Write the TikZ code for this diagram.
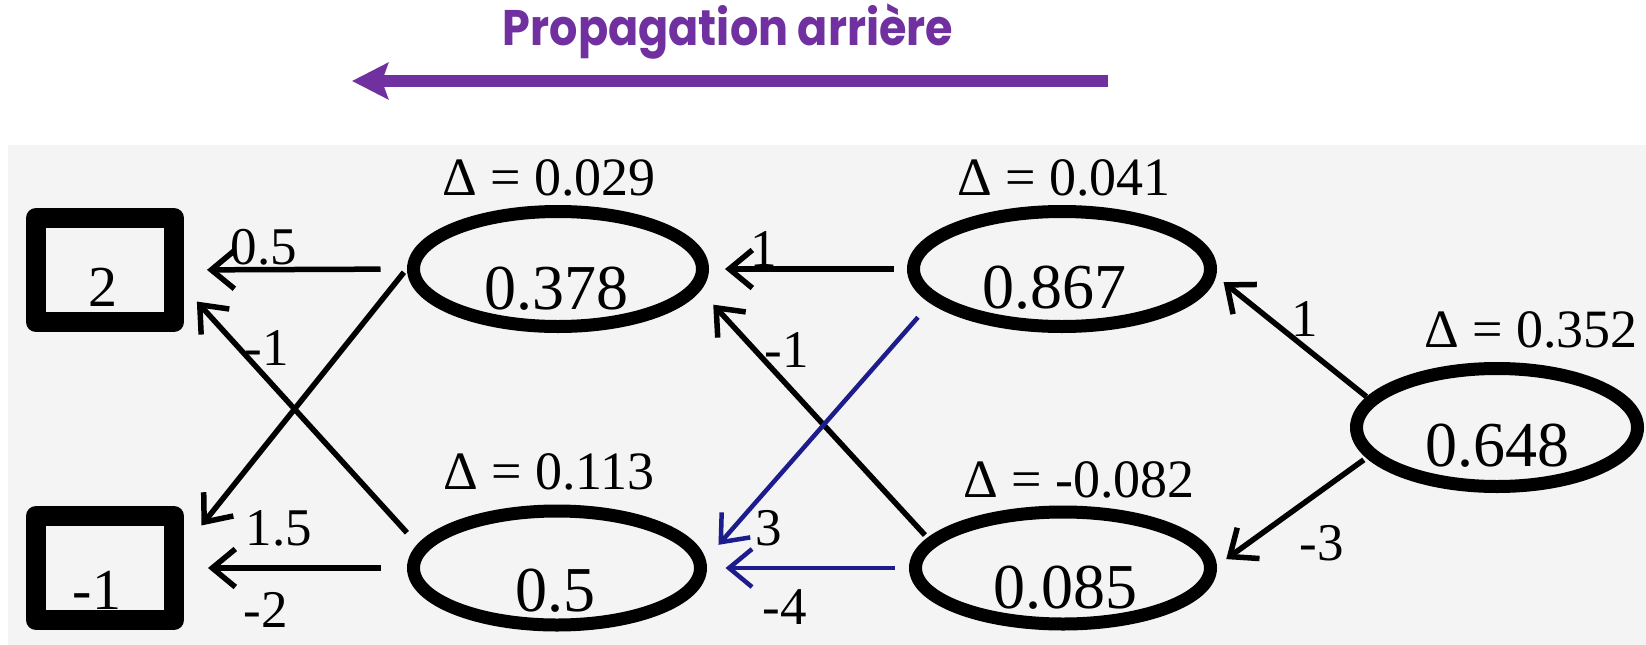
\documentclass[tikz,border=0pt]{standalone}
\usepackage{fontspec}
\setmainfont{Liberation Serif}
\newfontfamily\titlefont{Poppins}
\usetikzlibrary{arrows.meta,shapes.geometric}
\definecolor{ppurple}{HTML}{7030A0}
\definecolor{navy}{HTML}{1C1C8C}
\definecolor{bggray}{HTML}{F4F4F4}
\tikzset{
  neuron/.style={ellipse, draw, line width=13pt, inner sep=0pt, outer sep=0pt},
  inbox/.style={rectangle, draw, line width=20pt, line join=round, inner sep=0pt, outer sep=0pt,
                minimum width=138pt, minimum height=104pt},
  boxtext/.style={font=\fontsize{58}{58}\selectfont, inner sep=0pt, text depth=0pt},
  val/.style={font=\fontsize{64}{64}\selectfont, inner sep=0pt, text depth=0pt},
  delta/.style={font=\fontsize{54}{54}\selectfont, inner sep=0pt, text depth=0pt},
  wlab/.style={font=\fontsize{53}{53}\selectfont, inner sep=0pt, text depth=0pt},
  conn/.style={line width=5.5pt, -{Straight Barb[length=23pt,width=38pt]}},
  bconn/.style={conn, line width=4.5pt, draw=navy}
}
\begin{document}
\begin{tikzpicture}[x=1pt,y=-1pt]
\useasboundingbox (0,0) rectangle (1646,645);
% title and arrow
\node[font=\titlefont\bfseries\fontsize{50}{50}\selectfont, text=ppurple, anchor=base, inner sep=0pt]
  (title) at (728,45) {\scalebox{0.89}[1]{Propagation arrière}};
\coordinate (ptail) at (1108,81);
\coordinate (phead) at (352,81);
\draw[line width=12pt, ppurple, -{Stealth[length=36pt,width=36pt,inset=6pt]}] (ptail) -- (phead);
% background panel
\fill[bggray] (8,145) rectangle (1646,645);
% input boxes
\node[inbox] (in2) at (105,270) {};
\node[inbox] (inm1) at (105,568) {};
\node[boxtext] (t2) at (103,287) {2};
\node[boxtext] (tm1) at (97,590) {-1};
% neurons
\node[neuron, minimum width=289pt, minimum height=115pt] (A) at (558,269) {};
\node[neuron, minimum width=287pt, minimum height=114pt] (B) at (557,568) {};
\node[neuron, minimum width=297pt, minimum height=115pt] (C) at (1062,269) {};
\node[neuron, minimum width=295pt, minimum height=112pt] (D) at (1063,568) {};
\node[neuron, minimum width=281pt, minimum height=118pt] (E) at (1497,427.5) {};
% values
\node[val] (vA) at (556,288) {0.378};
\node[val] (vB) at (555,590) {0.5};
\node[val] (vC) at (1054,287) {0.867};
\node[val] (vD) at (1065,587) {0.085};
\node[val] (vE) at (1497,445) {0.648};
% deltas
\node[delta] (dA) at (549,178) {Δ = 0.029};
\node[delta] (dB) at (549,472) {Δ = 0.113};
\node[delta] (dC) at (1064,178) {Δ = 0.041};
\node[delta] (dD) at (1079,480) {Δ = -0.082};
\node[delta] (dE) at (1531,330) {Δ = 0.352};
% connectors
\draw[conn, shorten <=33pt, shorten >=33pt] (A.west) -- (in2.east);
\draw[conn, shorten <=33pt, shorten >=34pt] (B.west) -- (inm1.east);
\draw[conn, shorten <=22pt, shorten >=34pt] (B.172.8) -- ([yshift=-6.4pt]in2.east);
\draw[conn, shorten <=23pt, shorten >=44pt] (A.174.3) -- ([yshift=8.2pt]inm1.east);
\draw[conn, shorten <=19.5pt, shorten >=22.5pt] (C.west) -- (A.east);
\draw[conn, shorten <=10pt, shorten >=25.4pt] (D.169.6) -- (A.353.7);
\draw[bconn, shorten <=25pt, shorten >=27.5pt] (C.193.5) -- (B.1.4);
\draw[bconn, shorten <=21pt, shorten >=25pt] (D.west) -- (B.east);
\draw[conn, shorten <=6.7pt, shorten >=17pt] (E.168.2) -- (C.359.1);
\draw[conn, shorten <=9.7pt, shorten >=19.6pt] (E.192.1) -- (D.359.1);
% weight labels
\node[wlab] (w1) at (264,247) {0.5};
\node[wlab] (w2) at (267,348) {-1};
\node[wlab] (w3) at (279,528) {1.5};
\node[wlab] (w4) at (266,610) {-2};
\node[wlab] (w5) at (764,249) {1};
\node[wlab] (w6) at (787,350) {-1};
\node[wlab] (w7) at (769,528) {3};
\node[wlab] (w8) at (785,607) {-4};
\node[wlab] (w9) at (1305,319) {1};
\node[wlab] (w10) at (1322,543) {-3};
\end{tikzpicture}
\end{document}
